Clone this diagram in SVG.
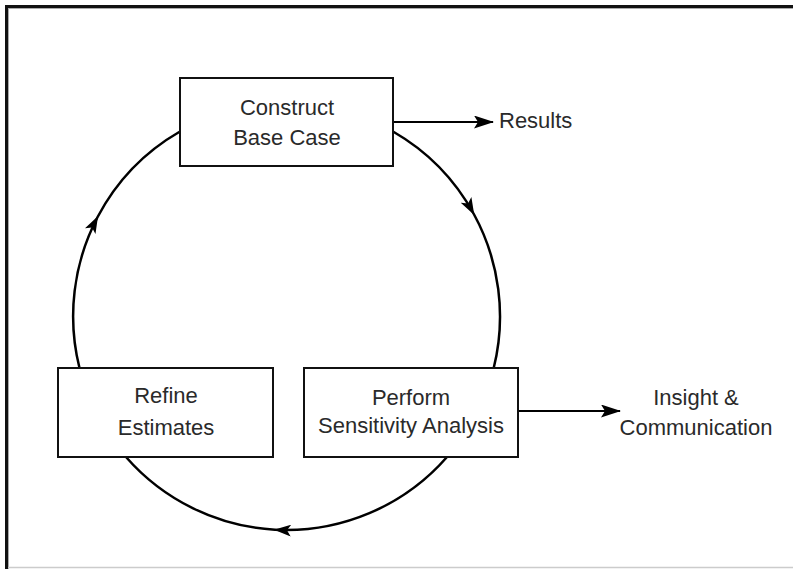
<svg xmlns="http://www.w3.org/2000/svg" width="793" height="569" viewBox="0 0 793 569">
<style>
.box{fill:#fff;stroke:#111;stroke-width:2}
.lbl{font-family:"Liberation Sans",Arial,sans-serif;font-size:22px;fill:#2a2a2a;text-anchor:middle}
.arc{fill:none;stroke:#000;stroke-width:2.5}
.ln{fill:none;stroke:#000;stroke-width:2}
</style>
<defs>
<marker id="ah" viewBox="0 0 20 13" refX="19" refY="6.5" markerWidth="20" markerHeight="13" markerUnits="userSpaceOnUse" orient="auto">
<path d="M0,0 L20,6.5 L0,13 L4,6.5 z" fill="#000"/>
</marker>
<marker id="am" viewBox="0 0 17 12" refX="16" refY="6" markerWidth="17" markerHeight="12" markerUnits="userSpaceOnUse" orient="auto">
<path d="M0,0 L17,6 L0,12 L4,6 z" fill="#000"/>
</marker>
</defs>
<rect x="0" y="0" width="793" height="569" fill="#fff"/>
<g id="frame">
<line x1="5" y1="6.5" x2="793" y2="6.5" stroke="#111" stroke-width="3"/>
<line x1="6.5" y1="5" x2="6.5" y2="569" stroke="#111" stroke-width="3"/>
<line x1="8" y1="8.5" x2="793" y2="8.5" stroke="#aaa" stroke-width="1"/>
<line x1="8.5" y1="8" x2="8.5" y2="569" stroke="#aaa" stroke-width="1"/>
<line x1="8" y1="567.5" x2="793" y2="567.5" stroke="#ccc" stroke-width="1.5"/>
</g>
<g id="connectors">
<path class="arc" marker-mid="url(#am)" d="M393,131.5 A213.5,213.5 0 0 1 473.8,214 A213.5,213.5 0 0 1 493.7,368"/>
<path class="arc" marker-mid="url(#am)" d="M447,457 A213.5,213.5 0 0 1 275,529.7 A213.5,213.5 0 0 1 126,457"/>
<path class="arc" marker-mid="url(#am)" d="M79.5,368 A213.5,213.5 0 0 1 97.6,217 A213.5,213.5 0 0 1 180,131.5"/>
<line class="ln" x1="393" y1="122" x2="493" y2="122" marker-end="url(#ah)"/>
<line class="ln" x1="518" y1="411" x2="620" y2="411" marker-end="url(#ah)"/>
</g>
<g id="construct">
<rect class="box" x="180" y="78" width="213" height="88"/>
<text class="lbl" x="287" y="115">Construct</text>
<text class="lbl" x="287" y="145">Base Case</text>
</g>
<g id="refine">
<rect class="box" x="58" y="368" width="215" height="89"/>
<text class="lbl" x="166" y="403">Refine</text>
<text class="lbl" x="166" y="435">Estimates</text>
</g>
<g id="perform">
<rect class="box" x="304" y="368" width="214" height="89"/>
<text class="lbl" x="411" y="405">Perform</text>
<text class="lbl" x="411" y="433">Sensitivity Analysis</text>
</g>
<g id="results">
<text class="lbl" x="499" y="128" style="text-anchor:start">Results</text>
</g>
<g id="insight">
<text class="lbl" x="696" y="405">Insight &amp;</text>
<text class="lbl" x="696" y="435">Communication</text>
</g>
</svg>
